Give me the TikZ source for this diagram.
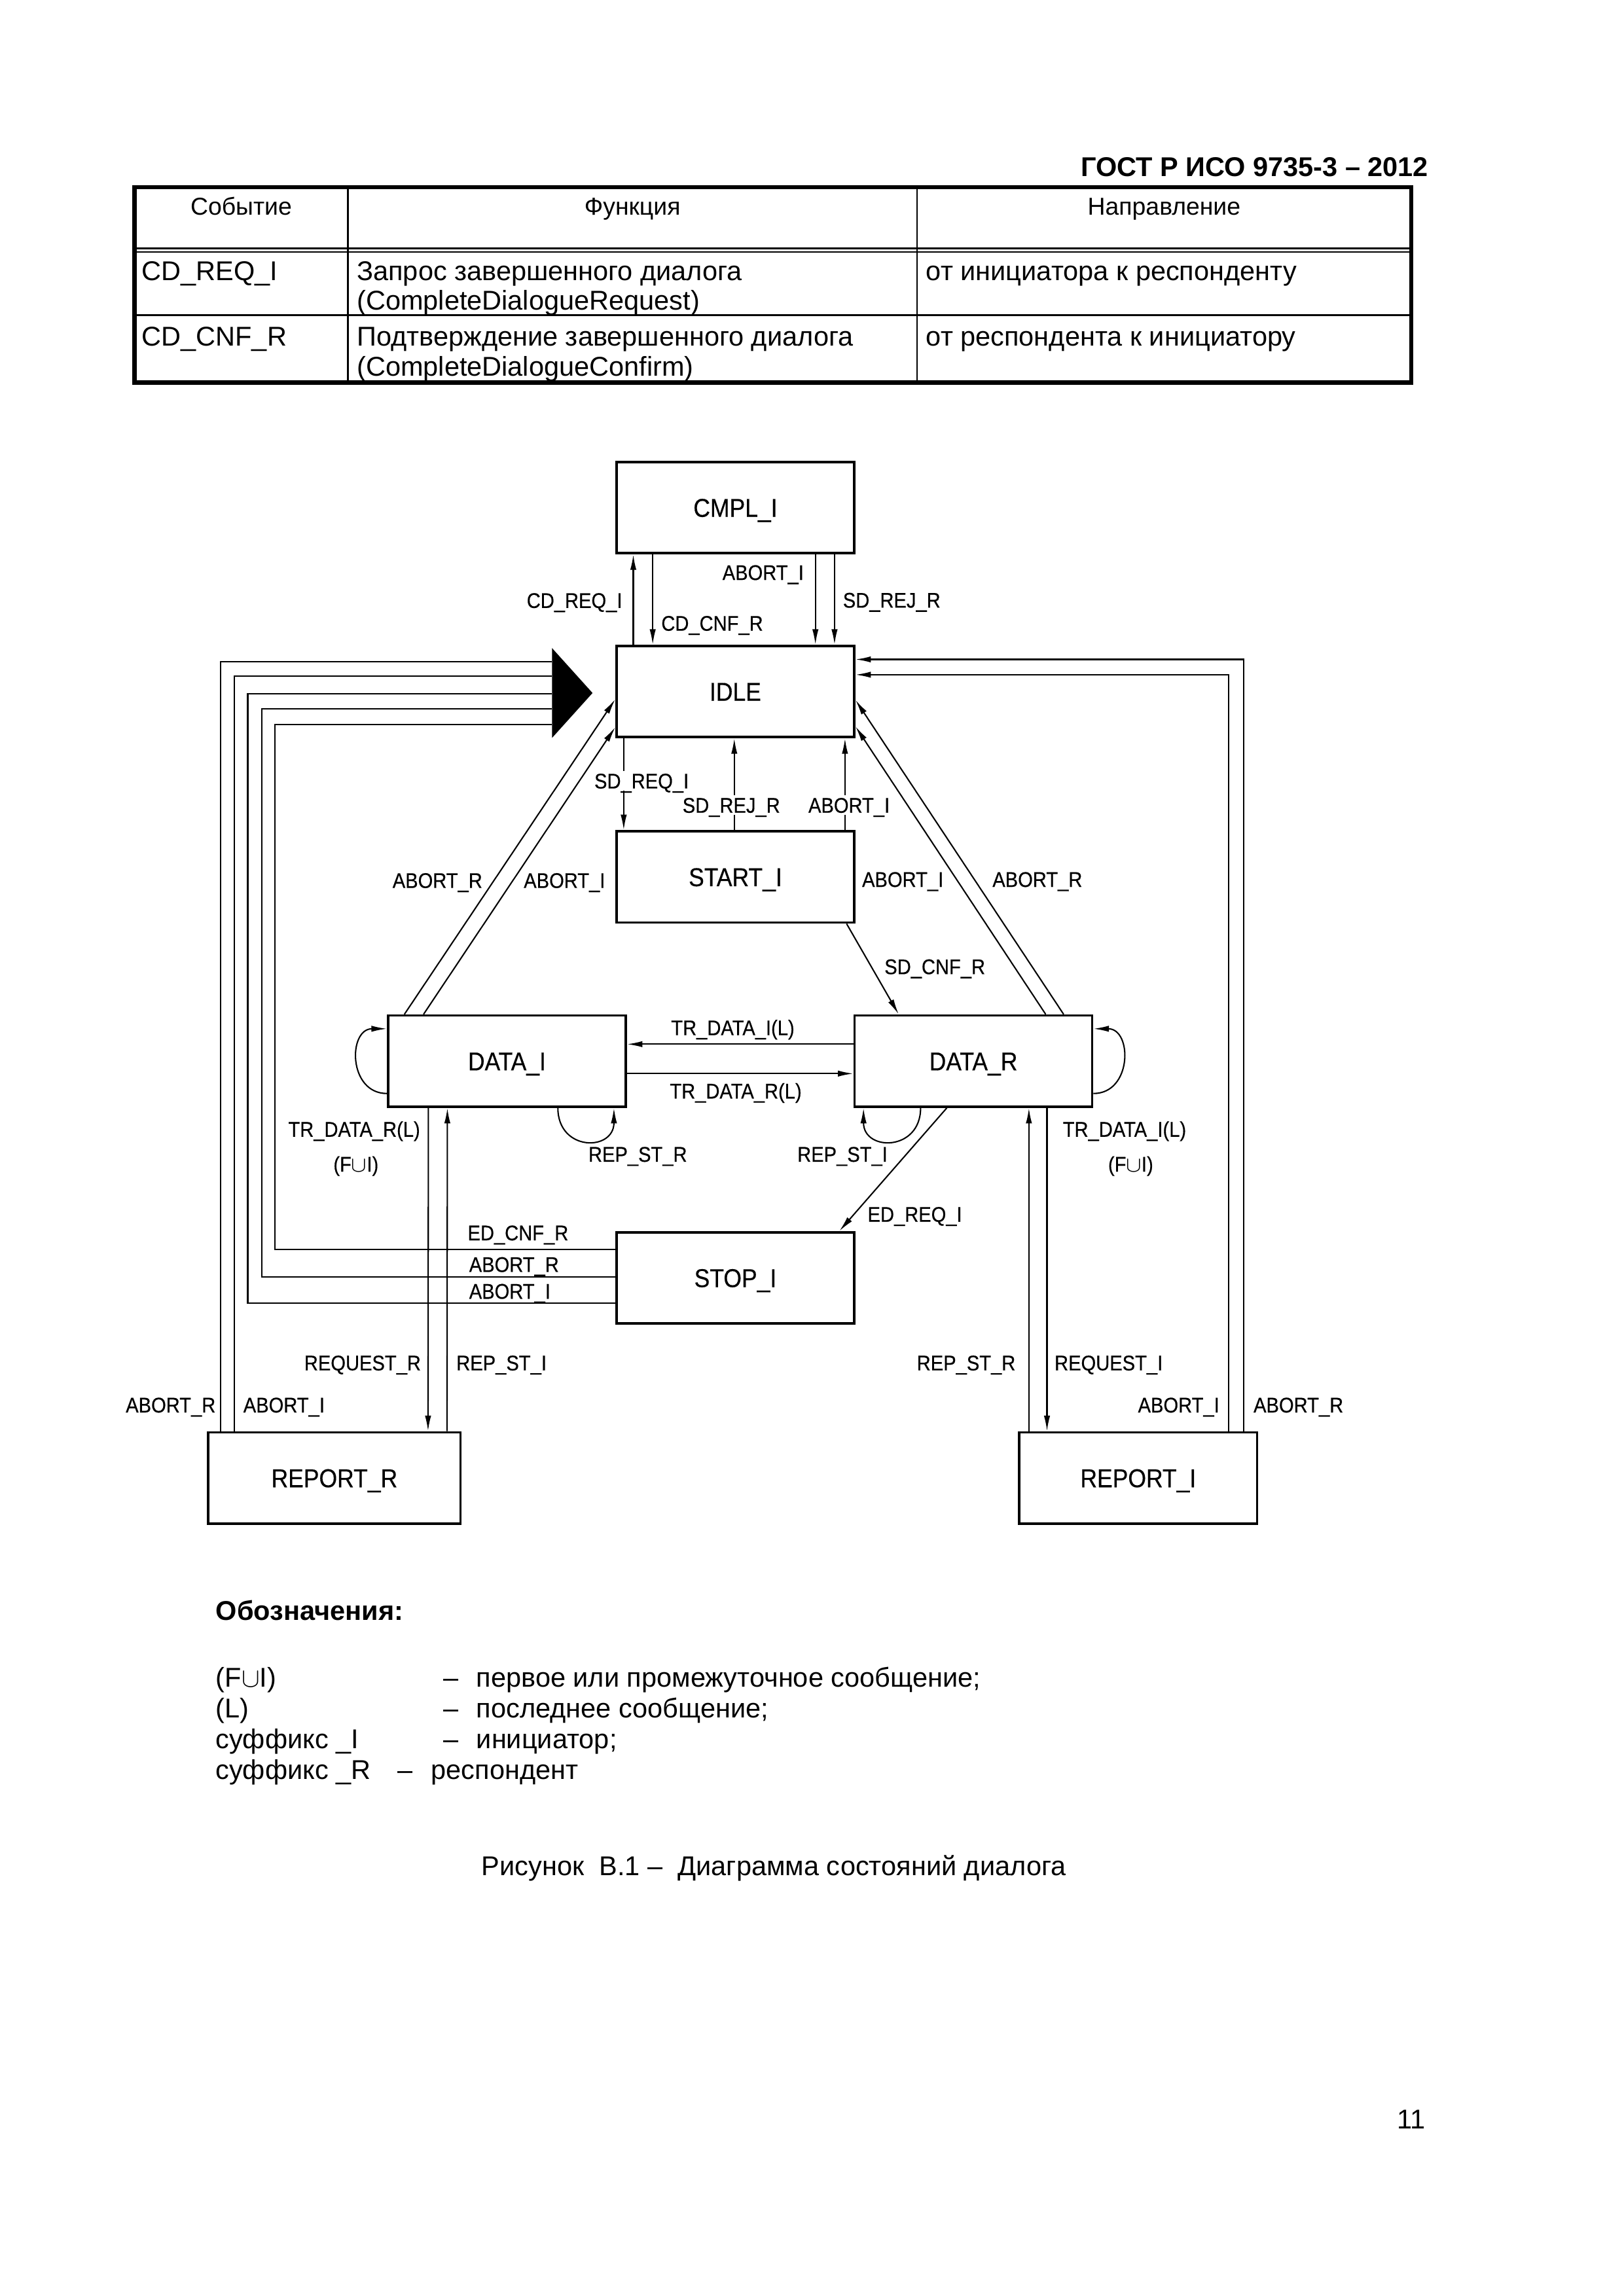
\documentclass[tikz,border=0pt]{standalone}
\usepackage{fontspec}
\setmainfont{Liberation Sans}
\newfontfamily\cadfont[FakeStretch=0.9, FakeBold=0.4]{Liberation Sans}
\usetikzlibrary{arrows.meta, positioning, calc}

\tikzset{
  state/.style={draw, line width=0.9pt, minimum width=30.74mm, minimum height=11.8mm,
                inner sep=0pt, text height=6.8pt, text depth=0pt,
                font=\cadfont\fontsize{9.5}{11}\selectfont},
  lbl/.style={fill=white, inner sep=0.8pt, text height=5.6pt, text depth=0pt,
              font=\cadfont\fontsize{7.8}{9}\selectfont},
  wire/.style={line width=0.5pt},
  txt/.style={anchor=base west, inner sep=0pt, font=\fontsize{10}{12}\selectfont},
  thead/.style={anchor=base, inner sep=0pt, font=\fontsize{9}{11}\selectfont},
}

\begin{document}
\begin{tikzpicture}[x=0.19035mm, y=-0.19035mm, >={Latex[length=2mm,width=0.8mm]}]

\useasboundingbox (0,0) rectangle (1103.3,1560.5);

% -----------------------------------------------------
%  Page header and table
% -----------------------------------------------------
\node[anchor=base east, inner sep=0pt, font=\bfseries\fontsize{10}{12}\selectfont]
      (gost) at (971,120.1) {ГОСТ Р ИСО 9735-3 – 2012};

\draw[line width=1.6pt] (91.4,127.2) rectangle (959,259.9);
\draw[line width=0.6pt] (236.4,127.2) -- (236.4,259.9) (623.2,127.2) -- (623.2,259.9);
\draw[line width=0.6pt] (91.4,168.8) -- (959,168.8) (91.4,171.2) -- (959,171.2);
\draw[line width=0.6pt] (91.4,214.3) -- (959,214.3);

\node[thead] (hEvent) at (163.9,146.1) {Событие};
\node[thead] (hFunc)  at (429.8,146.1) {Функция};
\node[thead] (hDir)   at (791.1,146.1) {Направление};

\node[txt] (evReq)  at (96,190.5)    {CD\_REQ\_I};
\node[txt] (fnReqA) at (242.2,190.5) {Запрос завершенного диалога};
\node[txt] (fnReqB) at (242.2,210.5) {(CompleteDialogueRequest)};
\node[txt] (dirReq) at (629,190.5)   {от инициатора к респонденту};
\node[txt] (evCnf)  at (96,234.9)    {CD\_CNF\_R};
\node[txt] (fnCnfA) at (242.2,234.9) {Подтверждение завершенного диалога};
\node[txt] (fnCnfB) at (242.2,255.7) {(CompleteDialogueConfirm)};
\node[txt] (dirCnf) at (629,234.9)   {от респондента к инициатору};

% -----------------------------------------------------
%  States
% -----------------------------------------------------
\node[state] (CMPL)  at (499.75,345)   {CMPL\_I};
\node[state] (IDLE)  at (499.75,470)   {IDLE};
\node[state] (START) at (499.75,596)   {START\_I};
\node[state] (DATAI) at (344.5,721.2)  {DATA\_I};
\node[state] (DATAR) at (661.5,721.2)  {DATA\_R};
\node[state] (STOP)  at (499.75,868.5) {STOP\_I};
\node[state, minimum width=32.64mm] (REPR) at (227.25,1004.5) {REPORT\_R};
\node[state] (REPI)  at (773.5,1004.5) {REPORT\_I};

% -----------------------------------------------------
%  CMPL_I <-> IDLE <-> START_I
% -----------------------------------------------------
\draw[wire,->] ($(IDLE.north west)+(12.2,0)$) -- ($(CMPL.south west)+(12.2,0)$);
\draw[wire,->] ($(CMPL.south west)+(25.4,0)$) -- ($(IDLE.north west)+(25.4,0)$);
\draw[wire,->] ($(CMPL.south east)+(-27.2,0)$) -- ($(IDLE.north east)+(-27.2,0)$);
\draw[wire,->] ($(CMPL.south east)+(-14.2,0)$) -- ($(IDLE.north east)+(-14.2,0)$);

\draw[wire,->] ($(IDLE.south west)+(5.7,0)$) -- ($(START.north west)+(5.7,0)$);
\draw[wire,->] ($(START.north)+(-0.75,0)$) -- ($(IDLE.south)+(-0.75,0)$);
\draw[wire,->] ($(START.north east)+(-7.1,0)$) -- ($(IDLE.south east)+(-7.1,0)$);

% Aborts from the data states back to IDLE
\draw[wire,->] ($(DATAI.north west)+(11.9,0)$) -- ($(IDLE.north west)+(0,37)$);
\draw[wire,->] ($(DATAI.north west)+(24.9,0)$) -- ($(IDLE.north west)+(0,56)$);
\draw[wire,->] ($(DATAR.north west)+(142.9,0)$) -- ($(IDLE.north east)+(0,37.5)$);
\draw[wire,->] ($(DATAR.north west)+(130.7,0)$) -- ($(IDLE.north east)+(0,55.5)$);

% -----------------------------------------------------
%  Data transfer
% -----------------------------------------------------
\draw[wire,->] ($(START.south east)+(-6,0)$) -- ($(DATAR.north west)+(30.8,0)$);
\draw[wire,->] ($(DATAR.south west)+(63.5,0)$) -- ($(STOP.north east)+(-10.9,0)$);

\draw[wire,->] ($(DATAR.north west)+(0,20.3)$) -- ($(DATAI.north east)+(0,20.3)$);
\draw[wire,->] ($(DATAI.north east)+(0,40.3)$) -- ($(DATAR.north west)+(0,40.3)$);

% Self loops
\draw[wire,->] ($(DATAI.west)+(0,22)$) .. controls +(-26.5,0) and +(-26.5,0) .. ($(DATAI.west)+(0,-22)$);
\draw[wire,->] ($(DATAR.east)+(0,22)$) .. controls +(26.5,0) and +(26.5,0) .. ($(DATAR.east)+(0,-22)$);
\draw[wire,->] ($(DATAI.south west)+(116.2,0)$) .. controls +(0,29.7) and +(0,29.7) .. ($(DATAI.south west)+(154.3,0)$);
\draw[wire,->] ($(DATAR.south west)+(45.7,0)$) .. controls +(0,29.7) and +(0,29.7) .. ($(DATAR.south west)+(6.9,0)$);

% -----------------------------------------------------
%  Return paths into IDLE (merged arrowhead on the left)
% -----------------------------------------------------
\coordinate (merge) at ($(IDLE.west)+(-43,0)$);
\fill ($(merge)+(0,-29.5)$) -- ($(IDLE.west)+(-15.5,1)$) -- ($(merge)+(0,31.5)$) -- cycle;

\draw[wire] ($(STOP.north west)+(0,12.5)$) -| ($(merge)+(-188.5,22.3)$) -- ($(merge)+(0,22.3)$);
\draw[wire] ($(STOP.north west)+(0,31.1)$) -| ($(merge)+(-197.3,11.9)$) -- ($(merge)+(0,11.9)$);
\draw[wire] ($(STOP.north west)+(0,48.9)$) -| ($(merge)+(-206.8,1.5)$) -- ($(merge)+(0,1.5)$);

\draw[wire] ($(REPR.north west)+(9.3,0)$) |- ($(merge)+(0,-20.4)$);
\draw[wire] ($(REPR.north west)+(18.5,0)$) |- ($(merge)+(0,-10.3)$);

\draw[wire,->] ($(REPI.north east)+(-10,0)$) |- ($(IDLE.north east)+(0,10)$);
\draw[wire,->] ($(REPI.north east)+(-20.1,0)$) |- ($(IDLE.north east)+(0,20.4)$);

% Reports
\draw[wire,->] ($(DATAI.south west)+(28.2,0)$) -- ($(REPR.north west)+(150.2,0)$);
\draw[wire,->] ($(REPR.north west)+(163.1,0)$) -- ($(DATAI.south west)+(41.1,0)$);
\draw[wire,->] ($(REPI.north west)+(7.3,0)$) -- ($(DATAR.south west)+(119.3,0)$);
\draw[wire,->] ($(DATAR.south west)+(131.6,0)$) -- ($(REPI.north west)+(19.6,0)$);

% -----------------------------------------------------
%  Event labels
% -----------------------------------------------------
\node[lbl] (lCdReq)   at (390.4,408)   {CD\_REQ\_I};
\node[lbl] (lCdCnf)   at (484,423.5)   {CD\_CNF\_R};
\node[lbl] (lAbTop)   at (518.6,389)   {ABORT\_I};
\node[lbl] (lRejTop)  at (606,407.8)   {SD\_REJ\_R};

\node[lbl] (lSdReq)   at (436,530.7)   {SD\_REQ\_I};
\node[lbl] (lSdRej)   at (497,547.2)   {SD\_REJ\_R};
\node[lbl] (lAbStart) at (577,547.2)   {ABORT\_I};

\node[lbl] (lAbRL)    at (297.3,598.3) {ABORT\_R};
\node[lbl] (lAbIL)    at (383.6,598.3) {ABORT\_I};
\node[lbl] (lAbIR)    at (613.5,597.6) {ABORT\_I};
\node[lbl] (lAbRR)    at (705,597.6)   {ABORT\_R};
\node[lbl] (lSdCnf)   at (635.3,656.9) {SD\_CNF\_R};

\node[lbl] (lTrI)     at (498,698.4)   {TR\_DATA\_I(L)};
\node[lbl] (lTrR)     at (500,741.4)   {TR\_DATA\_R(L)};
\node[lbl] (lTrRL)    at (240.7,767.4) {TR\_DATA\_R(L)};
\node[lbl] (lFiL)     at (241.9,791.1) {(F$\cup$I)};
\node[lbl] (lTrIR)    at (764.2,767.4) {TR\_DATA\_I(L)};
\node[lbl] (lFiR)     at (768.4,791.1) {(F$\cup$I)};
\node[lbl] (lRepStR)  at (433.4,784.4) {REP\_ST\_R};
\node[lbl] (lRepStI)  at (572.5,784.4) {REP\_ST\_I};
\node[lbl] (lEdReq)   at (621.7,825.2) {ED\_REQ\_I};

\node[lbl, anchor=west] (lEdCnf) at (316,837.8) {ED\_CNF\_R};
\node[lbl, anchor=west] (lAbRS)  at (317,859.3) {ABORT\_R};
\node[lbl, anchor=west] (lAbIS)  at (317,877.5) {ABORT\_I};

\node[lbl] (lReqR)    at (246.4,926.2) {REQUEST\_R};
\node[lbl] (lRepStIb) at (340.8,926.2) {REP\_ST\_I};
\node[lbl] (lRepStRb) at (656.6,926.2) {REP\_ST\_R};
\node[lbl] (lReqI)    at (753.4,926.2) {REQUEST\_I};
\node[lbl] (lAbRLo)   at (116,954.8)   {ABORT\_R};
\node[lbl] (lAbILo)   at (193,954.8)   {ABORT\_I};
\node[lbl] (lAbIRo)   at (801,954.8)   {ABORT\_I};
\node[lbl] (lAbRRo)   at (882.4,954.8) {ABORT\_R};

% -----------------------------------------------------
%  Legend and caption
% -----------------------------------------------------
\node[txt, font=\bfseries\fontsize{10}{12}\selectfont] (legTitle) at (146.4,1101) {Обозначения:};
\node[txt] (legFI)   at (146.4,1146.5) {(F$\cup$I)};
\node[txt] (legFId)  at (301,1146.5)   {–};
\node[txt] (legFIt)  at (323.4,1146.5) {первое или промежуточное сообщение;};
\node[txt] (legL)    at (146.4,1167.5) {(L)};
\node[txt] (legLd)   at (301,1167.5)   {–};
\node[txt] (legLt)   at (323.4,1167.5) {последнее сообщение;};
\node[txt] (legI)    at (146.4,1188.5) {суффикс \_I};
\node[txt] (legId)   at (301,1188.5)   {–};
\node[txt] (legIt)   at (323.4,1188.5) {инициатор;};
\node[txt] (legR)    at (146.4,1209.5) {суффикс \_R};
\node[txt] (legRd)   at (270,1209.5)   {–};
\node[txt] (legRt)   at (292.7,1209.5) {респондент};

\node[txt] (caption) at (327,1274.5) {Рисунок\ \ В.1 –\ \ Диаграмма состояний диалога};

\node[anchor=base east, inner sep=0pt, font=\fontsize{10}{12}\selectfont] (pagenum) at (969,1447) {11};

\end{tikzpicture}
\end{document}
